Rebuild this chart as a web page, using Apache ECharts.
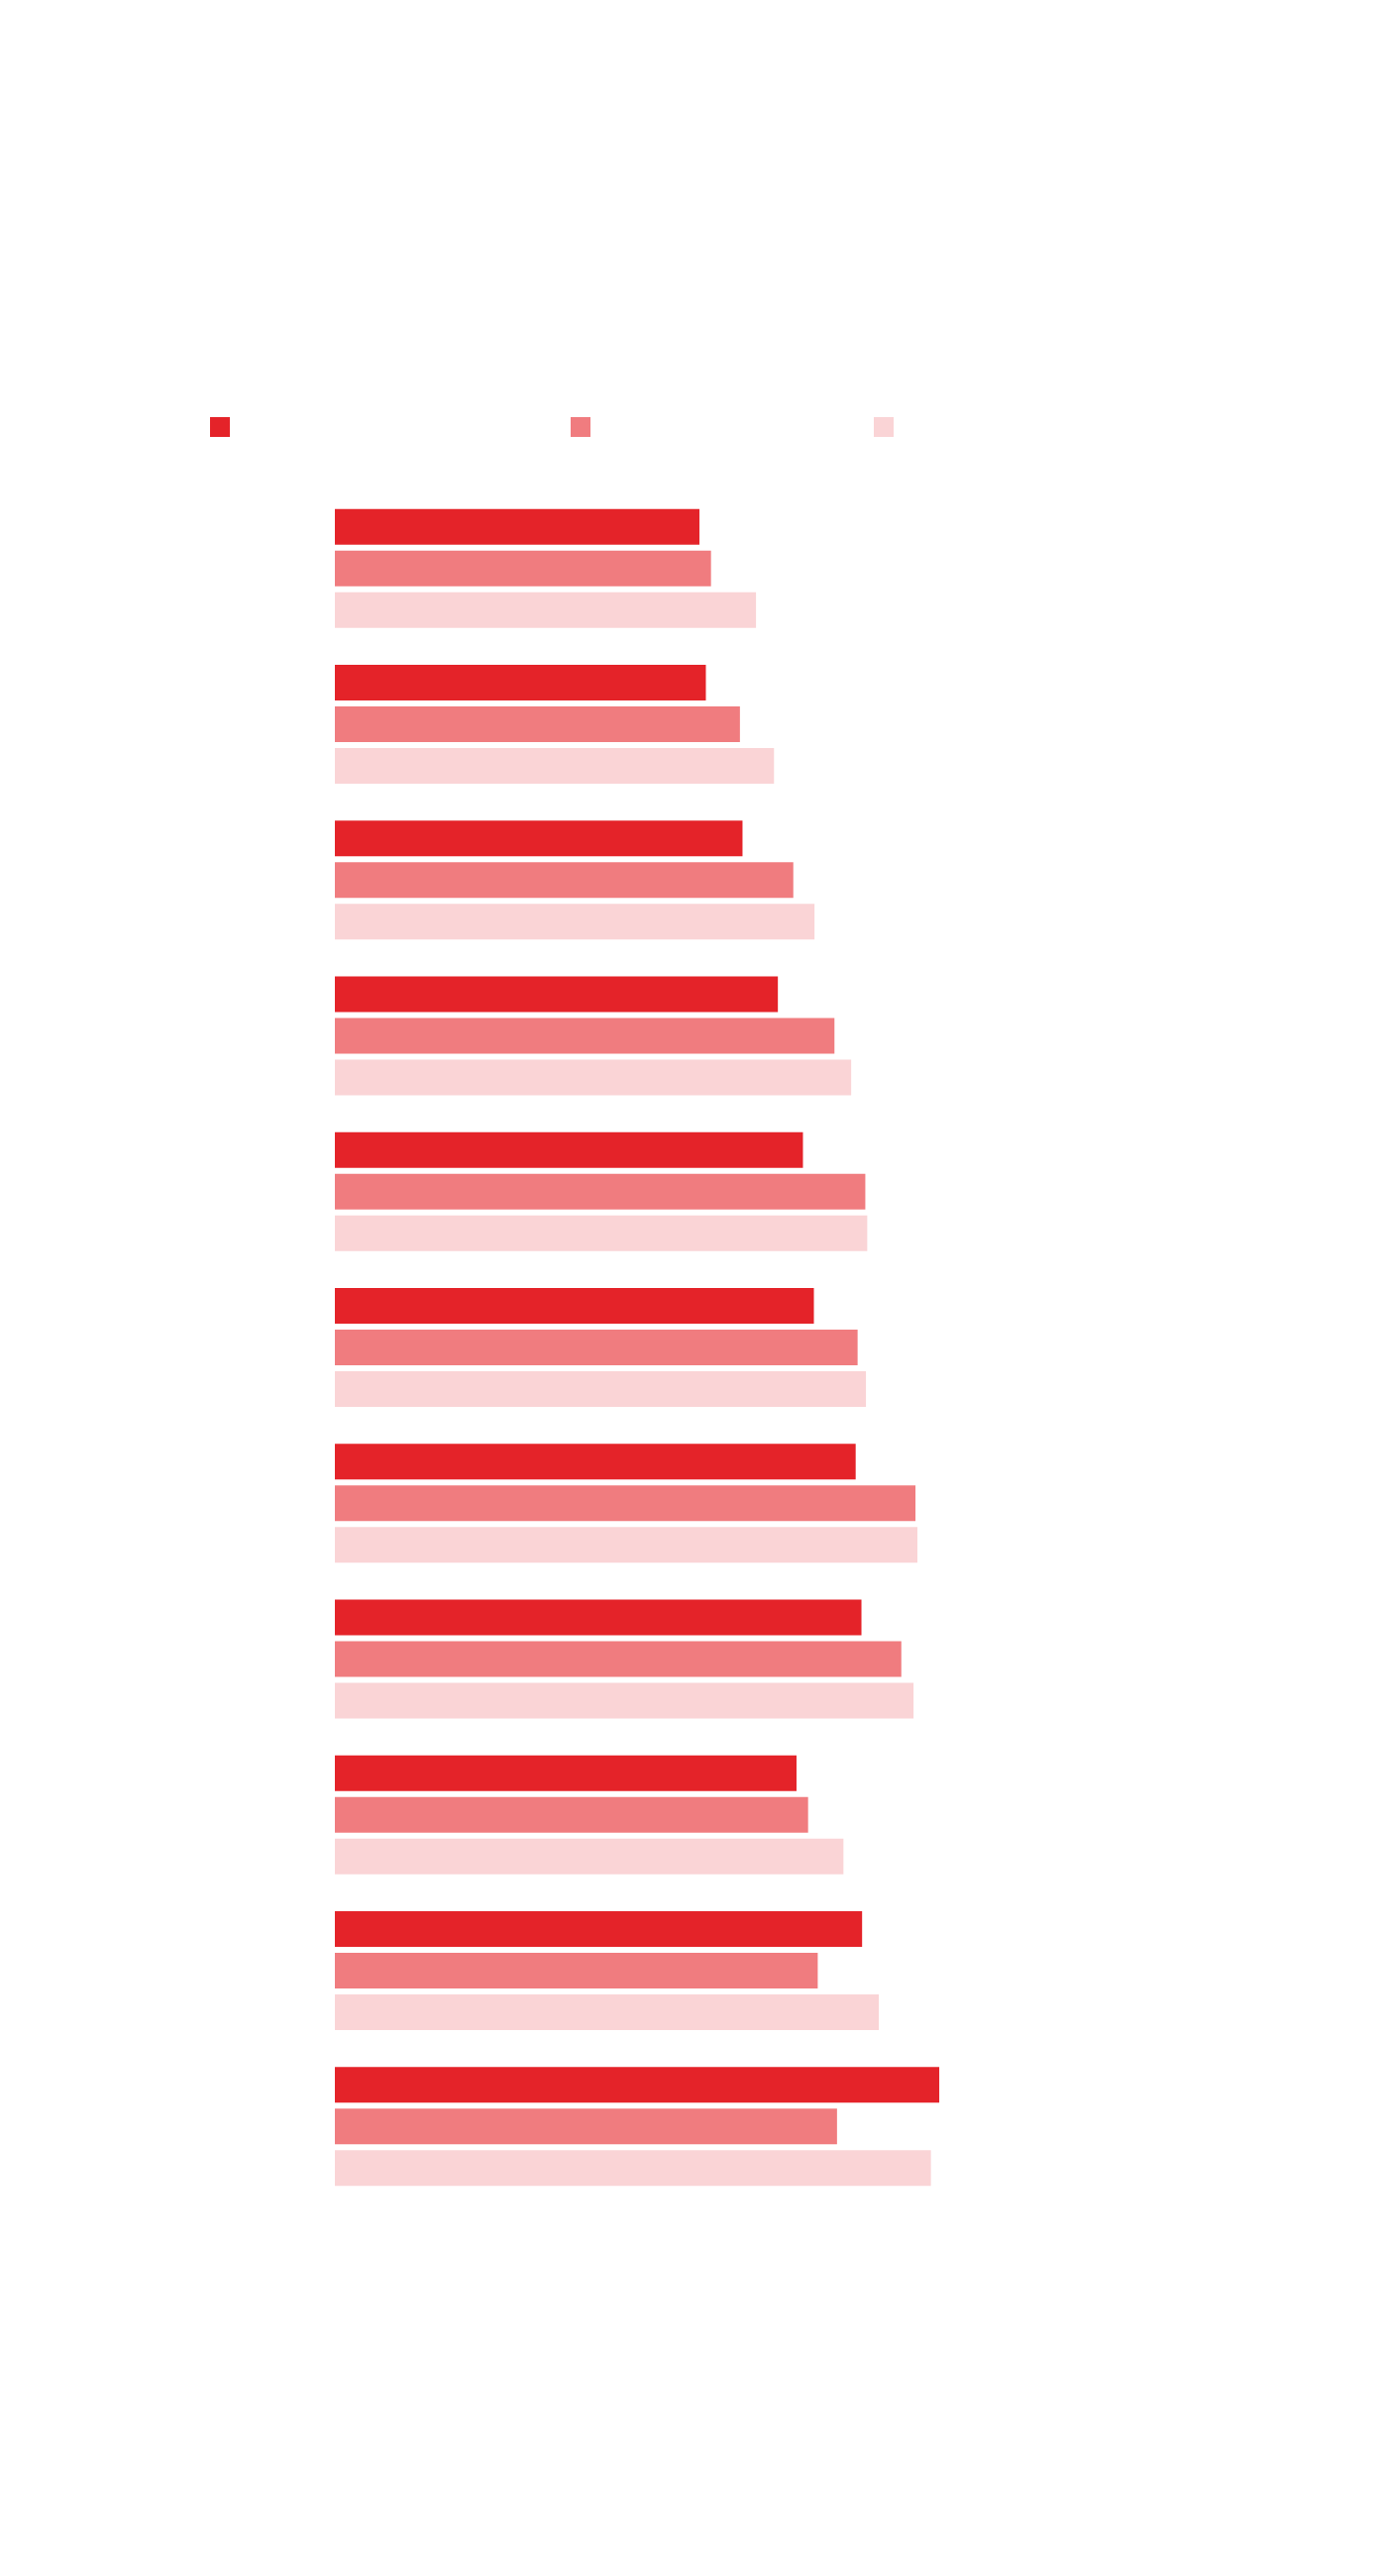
<!DOCTYPE html>
<html>
<head>
<meta charset="utf-8">
<script src="https://cdn.jsdelivr.net/npm/echarts@6/dist/echarts.min.js"></script>
<style>
html,body{margin:0;padding:0;background:#ffffff;}
#chart{width:1400px;height:2600px;}
</style>
</head>
<body>
<div id="chart"></div>
<script>
// Data (no labels are visible in the original)
const categories = ['G1','G2','G3','G4','G5','G6','G7','G8','G9','G10','G11'];
const seriesNames = ['Series 1','Series 2','Series 3'];
const seriesA = [56.7, 57.7, 63.4, 68.9, 72.8, 74.5, 81.0, 81.9, 71.8, 82.0, 94.0];
const seriesB = [58.5, 63.0, 71.3, 77.7, 82.5, 81.3, 90.3, 88.1, 73.6, 75.1, 78.1];
const seriesC = [65.5, 68.3, 74.6, 80.3, 82.8, 82.6, 90.6, 90.0, 79.1, 84.6, 92.7];
const colors = ['#E42329', '#F07C7F', '#FAD4D6'];
const legendLefts = [212, 576, 882];

const chart = echarts.init(document.getElementById('chart'), null, {renderer: 'canvas'});
const seriesData = [seriesA, seriesB, seriesC];

const option = {
  backgroundColor: '#ffffff',
  animation: false,
  legend: seriesNames.map((n, i) => ({
    data: [n],
    left: legendLefts[i],
    top: 421,
    padding: 0,
    icon: 'rect',
    itemWidth: 20,
    itemHeight: 20,
    selectedMode: false,
    formatter: () => '',
    textStyle: {fontSize: 1}
  })),
  grid: {left: 338, right: 413, top: 495, bottom: 375, containLabel: false},
  xAxis: {
    type: 'value', min: 0, max: 100,
    axisLine: {show: false}, axisTick: {show: false},
    axisLabel: {show: false}, splitLine: {show: false}
  },
  yAxis: {
    type: 'category', data: categories, inverse: true,
    axisLine: {show: false}, axisTick: {show: false},
    axisLabel: {show: false}, splitLine: {show: false}
  },
  series: seriesNames.map((n, i) => ({
    name: n,
    type: 'bar',
    data: seriesData[i],
    barWidth: 36,
    barGap: '16.67%',
    itemStyle: {color: colors[i]}
  }))
};
chart.setOption(option);
</script>
</body>
</html>
